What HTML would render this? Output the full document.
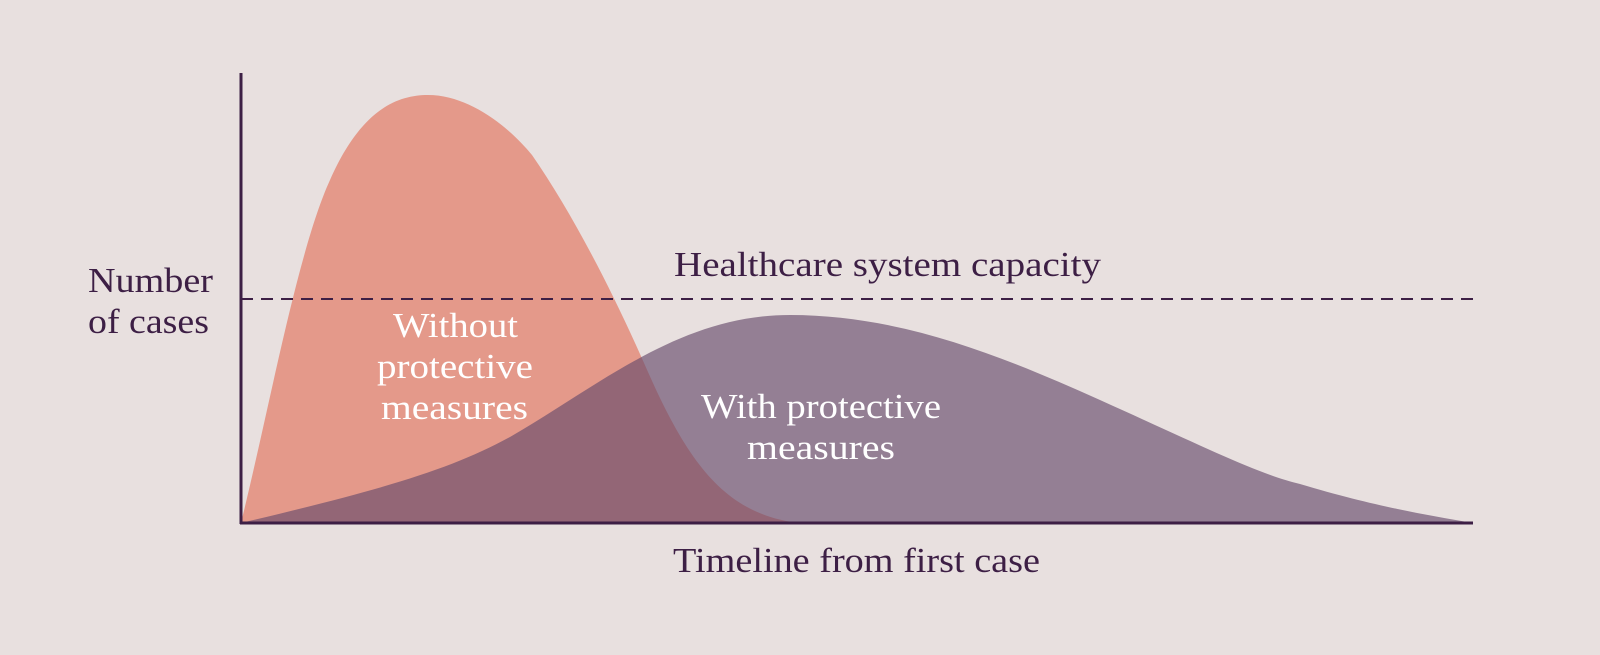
<!DOCTYPE html>
<html><head><meta charset="utf-8"><style>
html,body{margin:0;padding:0;background:#e8e0df;}
svg{display:block}
text{font-family:"Liberation Serif",serif;font-size:35px;}
</style></head><body>
<svg width="1600" height="655" viewBox="0 0 1600 655">
<rect width="1600" height="655" fill="#e8e0df"/>
<path d="M241,523 C270,405 298,250 330,180 C360,112 395,95 428,95 C470,95 510,128 532,155 C570,210 610,285 648,372 C688,462 725,515 800,523 Z" fill="#e4998a"/>
<path d="M241,523 C380,490 450,470 510,437 C600,385 680,315 790,315 C900,315 1000,355 1100,400 C1200,445 1260,475 1300,484 C1370,505 1420,514 1473,523 Z" fill="#674b6b" fill-opacity="0.65"/>
<line x1="241" y1="299" x2="1473" y2="299" stroke="#3d1f45" stroke-width="2" stroke-dasharray="12 8"/>
<line x1="241" y1="73" x2="241" y2="524" stroke="#3d1f45" stroke-width="3"/>
<line x1="240" y1="523" x2="1473" y2="523" stroke="#3d1f45" stroke-width="3"/>
<g fill="#3d1f45">
<text x="88" y="292" textLength="125" lengthAdjust="spacingAndGlyphs">Number</text>
<text x="88" y="333" textLength="121" lengthAdjust="spacingAndGlyphs">of cases</text>
<text x="674" y="276" textLength="427" lengthAdjust="spacingAndGlyphs">Healthcare system capacity</text>
<text x="673" y="572" textLength="367" lengthAdjust="spacingAndGlyphs">Timeline from first case</text>
</g>
<g fill="#ffffff">
<text x="393" y="337" textLength="125" lengthAdjust="spacingAndGlyphs">Without</text>
<text x="377" y="378" textLength="156" lengthAdjust="spacingAndGlyphs">protective</text>
<text x="381" y="419" textLength="147" lengthAdjust="spacingAndGlyphs">measures</text>
<text x="701" y="418" textLength="240" lengthAdjust="spacingAndGlyphs">With protective</text>
<text x="747" y="459" textLength="148" lengthAdjust="spacingAndGlyphs">measures</text>
</g>
</svg>
</body></html>
